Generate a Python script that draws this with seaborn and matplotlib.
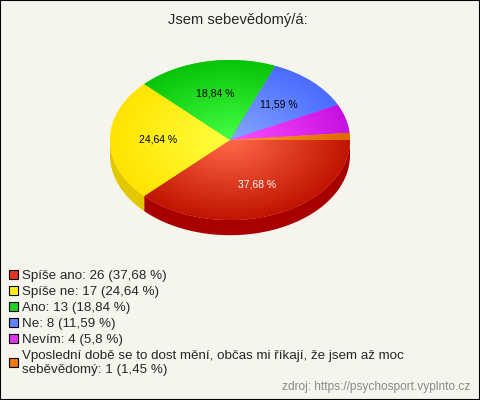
import numpy as np
import matplotlib
matplotlib.use("Agg")
import matplotlib.pyplot as plt
import seaborn as sns
from matplotlib.patches import Patch, Polygon, Rectangle
from matplotlib.colors import to_rgb

sns.set_style("white")
plt.rcParams['font.family'] = ['Liberation Sans', 'DejaVu Sans']

# data
kategorie = ["Spíše ano", "Spíše ne", "Ano", "Ne", "Nevím",
             "Vposlední době se to dost mění, občas mi říkají, že jsem až moc\nseběvědomý"]
pocty = [26, 17, 13, 8, 4, 1]
barvy = ["#e2361c", "#fff01a", "#22d422", "#6482ff", "#e234f0", "#f07a0a"]
svetle = ["#ff6a48", "#ffff40", "#44ff44", "#86a6ff", "#ff50ff", "#ff9a30"]
tmave = ["#c01400", "#ffe400", "#08c408", "#4a6cff", "#c810e0", "#e06800"]
boky = ["#a80000", "#e2c800", "#10a010", "#3050d0", "#a010b0", "#c05000"]
barvy_popisku = ["white", "black", "black", "black", "black", "black"]

pozadi = "#f5f5ee"
hloubka = 0.19

celkem = sum(pocty)


def fmt(v):
    s = f"{v:.2f}".rstrip("0").rstrip(".")
    return s.replace(".", ",")


procenta = [100 * p / celkem for p in pocty]
popisky = [f"{k}: {p} ({fmt(v)} %)" for k, p, v in zip(kategorie, pocty, procenta)]

fig = plt.figure(figsize=(4.8, 4.0), dpi=100, facecolor=pozadi)
ax = fig.add_axes([98 / 480, 0.37, 264 / 480, 0.5])
ax.set_facecolor(pozadi)

wedges, texts, autotexts = ax.pie(
    pocty, colors=barvy, startangle=0, counterclock=False,
    autopct=lambda v: (fmt(v) + " %") if v > 10 else "",
    pctdistance=0.6, wedgeprops=dict(linewidth=0),
    textprops=dict(fontsize=7.5))
for t, c in zip(autotexts, barvy_popisku):
    t.set_color(c)
    t.set_zorder(5)

ax.set_aspect('auto')
ax.axis('off')

# bok (3D okraj) pro spodní polovinu
for w, c in zip(wedges, boky):
    t1, t2 = w.theta1, w.theta2
    for k in (-1, 0, 1):
        lo, hi = -180 + 360 * k, 360 * k
        a, b = max(t1, lo), min(t2, hi)
        if a < b:
            t = np.radians(np.linspace(a, b, 80))
            x, y = np.cos(t), np.sin(t)
            pts = np.column_stack([np.r_[x, x[::-1]], np.r_[y, y[::-1] - hloubka]])
            ax.add_patch(Polygon(pts, closed=True, facecolor=c, edgecolor='none', zorder=0))

# radialni prechod na horni plose
gx, gy = np.meshgrid(np.linspace(-1, 1, 300), np.linspace(-1, 1, 300))
r = np.clip(np.sqrt(gx ** 2 + gy ** 2), 0, 1)[..., None]
for w, l, d in zip(wedges, svetle, tmave):
    img = np.array(to_rgb(l)) * (1 - r) + np.array(to_rgb(d)) * r
    im = ax.imshow(img, extent=(-1, 1, -1, 1), origin='lower', aspect='auto', zorder=2)
    im.set_clip_path(w)

ax.set_xlim(-1.1, 1.1)
ax.set_ylim(-1.4, 1.1)

fig.text(0.495, 1 - 20 / 400, "Jsem sebevědomý/á:", ha='center', va='center', fontsize=10.6)

handles = [Patch(facecolor=c, edgecolor='black', linewidth=0.8) for c in barvy]
fig.legend(handles, popisky, loc='upper left', bbox_to_anchor=(9 / 480, 1 - 270 / 400),
           frameon=False, fontsize=9.6, handlelength=0.65, handleheight=0.65,
           handletextpad=0.3, labelspacing=0.29, borderaxespad=0, borderpad=0)

fig.text(470 / 480, 1 - 387 / 400, "zdroj: https://psychosport.vyplnto.cz",
         ha='right', va='center', fontsize=8.6, color='#888888')

fig.patches.append(Rectangle((0, 0), 1, 1, transform=fig.transFigure, fill=False,
                             edgecolor='black', linewidth=1.5))

fig.savefig("out.png", dpi=100, facecolor=pozadi)
